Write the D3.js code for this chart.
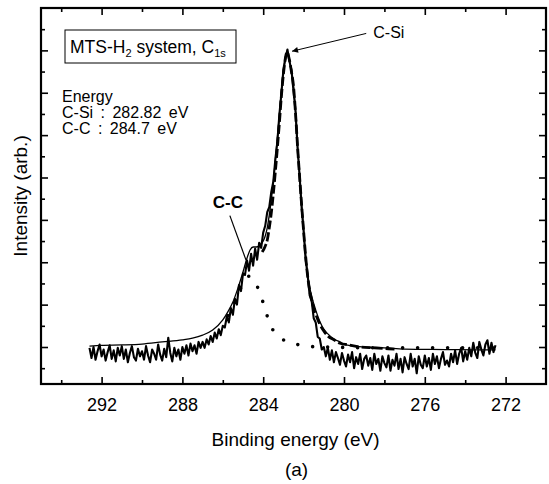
<!DOCTYPE html>
<html>
<head>
<meta charset="utf-8">
<script src="https://cdn.jsdelivr.net/npm/d3@7"></script>
<style>
  body { margin: 0; background: #fff; }
  svg { display: block; font-family: "Liberation Sans", Arial, Helvetica, sans-serif; }
</style>
</head>
<body>
<div id="chart"></div>
<script>
var width = 549, height = 484;

// raw spectrum, sampled every 0.1 eV from 292.6 eV down to 272.5 eV
var rawStart = 292.6, rawStep = 0.1;
var rawIntensity = [
	-0.02, -0.26, 0.00, -0.30, -0.10, 0.06, -0.22,
	-0.06, -0.32, -0.12, 0.04, -0.28, -0.08, -0.34, -0.02, -0.20, 0.02,
	-0.28, -0.06, -0.36, -0.14, 0.02, -0.24, -0.32, -0.04, -0.22, -0.10,
	-0.30, 0.02, -0.20, -0.36, -0.06, -0.16, -0.30, 0.06, -0.18, -0.32,
	-0.04, -0.24, 0.22, -0.14, -0.34, -0.02, -0.22, -0.06, -0.30, 0.00,
	-0.16, 0.04, -0.20, 0.08, -0.10, 0.04, -0.16, 0.12, -0.02, 0.12,
	-0.02, 0.18, 0.06, 0.26, 0.12, 0.34, 0.20, 0.42, 0.28, 0.50,
	0.46, 0.72, 0.58, 0.92, 0.76, 1.14, 1.00, 1.46, 1.32, 1.74,
	1.70, 2.04, 1.80, 2.20, 1.92, 2.32, 2.06, 2.46, 2.34, 2.70,
	2.86, 3.18, 3.30, 3.66, 3.90, 4.42, 4.84, 5.48, 5.98, 6.54,
	6.80, 7.02, 6.74, 6.54, 6.04, 5.58, 4.70, 4.06, 3.30, 2.74,
	2.06, 1.70, 1.22, 1.08, 0.68, 0.58, 0.24, 0.20, -0.06, 0.00,
	-0.22, -0.02, -0.30, -0.08, -0.36, -0.12, -0.26, -0.42, -0.14, -0.32,
	-0.46, -0.18, -0.36, -0.12, -0.50, -0.24, -0.40, -0.16, -0.52, -0.28,
	-0.20, -0.44, -0.26, -0.54, -0.16, -0.40, -0.28, -0.56, -0.22, -0.38,
	-0.48, -0.20, -0.56, -0.30, -0.44, -0.16, -0.52, -0.28, -0.60, -0.24,
	-0.40, -0.52, -0.16, -0.46, -0.28, -0.62, -0.22, -0.42, -0.50, -0.20,
	-0.46, -0.26, -0.54, -0.16, -0.40, -0.22, -0.50, -0.28, -0.12, -0.42,
	-0.32, -0.46, -0.16, -0.36, -0.08, -0.40, -0.16, -0.02, -0.34, -0.10,
	-0.30, -0.02, -0.22, 0.10, -0.14, -0.26, 0.12, -0.06, -0.20, 0.06,
	0.16, -0.16, 0.10, -0.12, 0.04
];

// fitted envelope (solid)
var sumEnergy = [292.6, 292.0, 291.0, 290.0, 289.0, 288.0, 287.5, 287.0, 286.5, 286.0,
	285.75, 285.5, 285.25, 285.0, 284.8, 284.65, 284.5, 284.35, 284.2, 284.0,
	283.9, 283.8, 283.7, 283.6, 283.5, 283.4, 283.3, 283.2, 283.1, 283.0,
	282.9, 282.82, 282.7, 282.6, 282.5, 282.4, 282.3, 282.2, 282.1, 282.0,
	281.9, 281.8, 281.7, 281.6, 281.4, 281.2, 281.0, 280.8, 280.5, 280.2,
	280.0, 279.5, 279.0, 278.0, 277.0, 275.0, 273.0, 272.5];
var sumFit = [0.02, 0.04, 0.05, 0.07, 0.12, 0.17, 0.21, 0.28, 0.40, 0.64,
	0.83, 1.06, 1.39, 1.77, 2.10, 2.29, 2.36, 2.36, 2.38, 2.50,
	2.62, 2.81, 3.11, 3.47, 3.89, 4.41, 4.93, 5.47, 6.06, 6.53,
	6.86, 6.98, 6.77, 6.49, 6.18, 5.54, 4.76, 4.06, 3.40, 2.76,
	2.17, 1.72, 1.42, 1.20, 0.87, 0.61, 0.42, 0.31, 0.19, 0.12,
	0.07, 0.02, 0.00, -0.02, -0.05, -0.06, -0.07, -0.07];

// C-Si component (dashed)
var csiEnergy = [284.05, 283.9, 283.8, 283.7, 283.6, 283.5, 283.4, 283.3, 283.2, 283.1,
	283.0, 282.9, 282.82, 282.7, 282.6, 282.5, 282.4, 282.3, 282.2, 282.1,
	282.0, 281.9, 281.8, 281.7, 281.6, 281.5, 281.4, 281.2, 281.0, 280.8,
	280.5, 280.2, 279.8, 279.2, 278.5, 277.5];
var csiFit = [2.24, 2.38, 2.52, 2.81, 3.16, 3.61, 4.13, 4.69, 5.28, 5.92,
	6.44, 6.82, 6.96, 6.77, 6.49, 6.16, 5.52, 4.74, 4.03, 3.37,
	2.74, 2.15, 1.67, 1.34, 1.11, 0.92, 0.78, 0.54, 0.38, 0.26,
	0.17, 0.09, 0.05, 0.00, -0.02, -0.05];

// C-C component (dotted)
var ccEnergy = [285.75, 285.5, 285.25, 285.0, 284.85, 284.7, 284.55, 284.4, 284.2, 284.0,
	283.8, 283.6, 283.4, 283.2, 283.0, 282.6, 282.2, 281.6, 281.0, 280.0,
	278.0, 276.0, 274.0, 272.5];
var ccFit = [0.74, 0.95, 1.25, 1.50, 1.62, 1.67, 1.64, 1.53, 1.32, 1.04,
	0.73, 0.47, 0.33, 0.24, 0.17, 0.09, 0.05, 0.01, 0.00, -0.01,
	-0.02, -0.02, -0.02, -0.02];

var xMajor = [292, 288, 284, 280, 276, 272];
var xMinor = [294, 290, 286, 282, 278, 274];
var yMajor = [0, 1, 2, 3, 4, 5, 6, 7];
var yMinor = [-0.5, 0.5, 1.5, 2.5, 3.5, 4.5, 5.5, 6.5, 7.5];

var energyLines = ["Energy", "C-Si : 282.82 eV", "C-C : 284.7 eV"];

var plot = {left: 41, right: 546, top: 8, bottom: 384};

var x = d3.scaleLinear().domain([295, 270]).range([plot.left, plot.right]);
var y = d3.scaleLinear().domain([-0.873, 8.0]).range([plot.bottom, plot.top]);

var svg = d3.select("#chart").append("svg")
	.attr("width", width)
	.attr("height", height);

// axes, ticks pointing inward
function addAxis(axis, tx, ty, labels) {
	var g = svg.append("g")
		.attr("transform", "translate(" + tx + "," + ty + ")")
		.call(axis);
	g.select(".domain").remove();
	g.attr("font-family", null).attr("font-size", null);
	g.selectAll(".tick line").attr("stroke", "#000").attr("stroke-width", 1.6);
	if (!labels) g.selectAll(".tick text").remove();
	else g.selectAll(".tick text").attr("font-size", 18).attr("fill", "#000");
	return g;
}

addAxis(d3.axisBottom(x).tickValues(xMajor).tickSize(-7).tickPadding(14).tickFormat(d3.format("d")), 0, plot.bottom, true);
addAxis(d3.axisBottom(x).tickValues(xMinor).tickSize(-4), 0, plot.bottom, false);
addAxis(d3.axisTop(x).tickValues(xMajor).tickSize(-7), 0, plot.top, false);
addAxis(d3.axisTop(x).tickValues(xMinor).tickSize(-4), 0, plot.top, false);
addAxis(d3.axisLeft(y).tickValues(yMajor).tickSize(-7), plot.left, 0, false);
addAxis(d3.axisLeft(y).tickValues(yMinor).tickSize(-4), plot.left, 0, false);
addAxis(d3.axisRight(y).tickValues(yMajor).tickSize(-7), plot.right, 0, false);
addAxis(d3.axisRight(y).tickValues(yMinor).tickSize(-4), plot.right, 0, false);

svg.append("rect")
	.attr("x", plot.left)
	.attr("y", plot.top)
	.attr("width", plot.right - plot.left)
	.attr("height", plot.bottom - plot.top)
	.attr("fill", "none")
	.attr("stroke", "#000")
	.attr("stroke-width", 2.2);

// data
var rawData = rawIntensity.map(function(v, i) { return [rawStart - i * rawStep, v]; });

var line = d3.line()
	.x(function(d) { return x(d[0]); })
	.y(function(d) { return y(d[1]); });
var smooth = d3.line()
	.x(function(d) { return x(d[0]); })
	.y(function(d) { return y(d[1]); })
	.curve(d3.curveMonotoneX);

svg.append("path")
	.attr("d", line(rawData))
	.attr("fill", "none")
	.attr("stroke", "#000")
	.attr("stroke-width", 2.1)
	.attr("stroke-linejoin", "round");

svg.append("path")
	.attr("d", smooth(d3.zip(sumEnergy, sumFit)))
	.attr("fill", "none")
	.attr("stroke", "#000")
	.attr("stroke-width", 1.3);

svg.append("path")
	.attr("d", smooth(d3.zip(ccEnergy, ccFit)))
	.attr("fill", "none")
	.attr("stroke", "#000")
	.attr("stroke-width", 3.6)
	.attr("stroke-linecap", "round")
	.attr("stroke-dasharray", "0,15");

svg.append("path")
	.attr("d", smooth(d3.zip(csiEnergy, csiFit)))
	.attr("fill", "none")
	.attr("stroke", "#000")
	.attr("stroke-width", 2.8)
	.attr("stroke-dasharray", "9,3");

// legend box
var title = svg.append("text")
	.attr("x", 70)
	.attr("y", 53)
	.attr("font-size", 17.5);
title.append("tspan").text("MTS-H");
title.append("tspan").attr("font-size", 11).attr("dy", 4).text("2");
title.append("tspan").attr("dy", -4).text(" system, C");
title.append("tspan").attr("font-size", 11).attr("dy", 4).text("1s");

svg.append("rect")
	.attr("x", 65)
	.attr("y", 30)
	.attr("width", 171)
	.attr("height", 33)
	.attr("fill", "none")
	.attr("stroke", "#000")
	.attr("stroke-width", 1);

svg.selectAll(".elabel")
	.data(energyLines)
	.enter().append("text")
	.attr("class", "elabel")
	.attr("x", 62)
	.attr("y", function(d, i) { return 102 + i * 16; })
	.attr("font-size", 16)
	.style("word-spacing", "3px")
	.text(function(d) { return d; });

// peak annotations
var defs = svg.append("defs");
defs.append("marker")
	.attr("id", "arrow")
	.attr("viewBox", "0 0 10 10")
	.attr("refX", 10)
	.attr("refY", 5)
	.attr("markerWidth", 11)
	.attr("markerHeight", 6)
	.attr("markerUnits", "userSpaceOnUse")
	.attr("orient", "auto")
	.append("path")
	.attr("d", "M0,0 L10,5 L0,10 Z")
	.attr("fill", "#000");

svg.append("line")
	.attr("x1", x(278.9))
	.attr("y1", y(7.4))
	.attr("x2", x(282.82) + 5)
	.attr("y2", y(6.98))
	.attr("stroke", "#000")
	.attr("stroke-width", 1)
	.attr("marker-end", "url(#arrow)");
svg.append("text")
	.attr("x", x(278.55))
	.attr("y", 38)
	.attr("font-size", 16)
	.text("C-Si");

svg.append("line")
	.attr("x1", x(285.65))
	.attr("y1", y(3.1))
	.attr("x2", x(284.85))
	.attr("y2", y(2.05))
	.attr("stroke", "#000")
	.attr("stroke-width", 1.2);
svg.append("text")
	.attr("x", x(286.5))
	.attr("y", 208)
	.attr("font-size", 17)
	.attr("font-weight", "bold")
	.text("C-C");

// axis titles
svg.append("text")
	.attr("transform", "translate(27," + ((plot.top + plot.bottom) / 2) + ") rotate(-90)")
	.attr("text-anchor", "middle")
	.attr("font-size", 19)
	.text("Intensity (arb.)");

svg.append("text")
	.attr("x", (plot.left + plot.right) / 2 + 2)
	.attr("y", 446)
	.attr("text-anchor", "middle")
	.attr("font-size", 19)
	.text("Binding energy (eV)");

svg.append("text")
	.attr("x", (plot.left + plot.right) / 2 + 3)
	.attr("y", 476)
	.attr("text-anchor", "middle")
	.attr("font-size", 19)
	.text("(a)");
</script>
</body>
</html>
